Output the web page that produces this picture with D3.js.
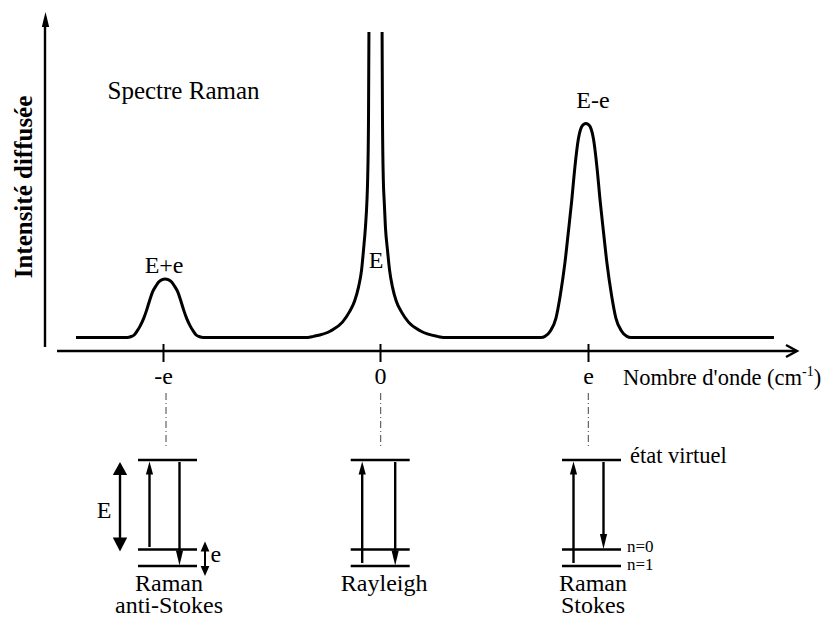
<!DOCTYPE html>
<html><head><meta charset="utf-8">
<script src="https://cdn.jsdelivr.net/npm/d3@7"></script>
<style>
body{margin:0;background:#fff}
svg{display:block}
text{font-family:"Liberation Serif","Times New Roman",Times,"Nimbus Roman","DejaVu Serif",serif;fill:#000}
</style>
</head><body>
<svg id="c" width="821" height="617"></svg>
<script>
// ---------- DATA ----------
const tickValues = [-100, 0, 100];
const tickLabels = ["-e", "0", "e"];
const peakLabels = ["E+e", "E", "E-e"];
const peakLabelX = [-99.5, -1.8, 102.4];
const peakLabelY = [23.0, 24.4, 71.5];

// spectrum (null = curve clipped at the top of the Rayleigh line)
const spectrumX = [
  -140.1,
  -116.5, -114.9, -113.3, -111.9, -110.5, -108.9, -107.5, -106.1, -104.8, -103.4, -102.0, -100.4, -99.0,
  -97.6, -96.0, -94.6, -93.2, -91.9, -90.5, -89.1, -87.5, -86.1, -84.7, -83.1, -81.5,
  -33.4, -30.7, -22.8, -17.3, -14.1, -11.7, -9.9, -8.5, -7.6, -6.7, -6.0, -5.7, -5.3, -5.1,
  -2.0,
  1.0, 1.2, 1.6, 2.0, 2.6, 3.6, 4.6, 6.0, 7.8, 10.3, 13.7, 19.5, 27.6, 30.5,
  77.4, 79.3, 81.9, 84.6, 86.7, 88.9, 90.5, 92.2, 93.7, 95.3, 96.9, 98.0, 99.0,
  100.0, 101.1, 102.7, 104.3, 105.8, 107.5, 109.1, 111.3, 113.4, 116.1, 118.7, 120.6,
  189.4
];
const spectrumY = [
  4.0,
  4.0, 4.2, 4.7, 5.9, 7.4, 9.6, 12.1, 15.0, 17.4, 19.0, 20.3, 21.0, 21.2,
  21.0, 20.3, 19.0, 17.4, 15.0, 12.1, 9.6, 7.4, 5.9, 4.7, 4.2, 4.0,
  4.0, 4.3, 5.9, 8.5, 11.5, 14.7, 18.8, 23.8, 29.7, 36.5, 44.4, 50.3, 67.9, 93.8,
  null,
  93.8, 67.9, 50.3, 44.4, 36.5, 29.7, 23.8, 18.8, 14.7, 11.5, 8.5, 5.9, 4.3, 4.0,
  4.0, 4.3, 5.9, 9.7, 16.5, 25.9, 34.7, 44.4, 54.1, 62.1, 65.9, 66.7, 66.9,
  66.7, 65.9, 62.1, 54.1, 44.4, 34.7, 25.9, 16.5, 9.7, 5.9, 4.3, 4.0,
  4.0
];

// energy-level diagrams
const diagramNames = [["Raman", "anti-Stokes"], ["Rayleigh"], ["Raman", "Stokes"]];
const upFrom   = [1, 2, 2];   // level index: 0 = virtual, 1 = n=0, 2 = n=1
const downTo   = [2, 2, 1];
const levelNames = ["état virtuel", "n=0", "n=1"];

// ---------- LAYOUT ----------
const FONT = '"Liberation Serif","Times New Roman",Times,"Nimbus Roman","DejaVu Serif",serif';
const svg = d3.select("#c");
const x = d3.scaleLinear().domain([-100, 0, 100]).range([163, 380, 588]);
const y = d3.scaleLinear().domain([0, 100]).range([351, 11]);
const AX = 2.4;

// y axis with arrow
svg.append("line").attr("x1", 45).attr("x2", 45).attr("y1", 347).attr("y2", 22)
  .attr("stroke", "#000").attr("stroke-width", AX);
svg.append("path").attr("d", "M45.5,12 L41.8,27 L49.2,27 Z").attr("fill", "#000");

// x axis with arrow
svg.append("line").attr("x1", 57).attr("x2", 796).attr("y1", 351).attr("y2", 351)
  .attr("stroke", "#000").attr("stroke-width", AX);
svg.append("path").attr("d", "M786,345 L797,351 L786,357").attr("fill", "none")
  .attr("stroke", "#000").attr("stroke-width", AX);

const axis = d3.axisBottom(x).tickValues(tickValues)
  .tickFormat((d, i) => tickLabels[i]).tickSizeInner(18).tickSizeOuter(0);
const gAxis = svg.append("g").attr("transform", "translate(0,344)").call(axis);
gAxis.attr("font-family", null).attr("font-size", null);
gAxis.select(".domain").remove();
gAxis.selectAll(".tick line").attr("stroke", "#000").attr("stroke-width", 2);
gAxis.selectAll(".tick text").attr("y", 40).attr("dy", 0)
  .style("font-family", FONT).style("font-size", "24px").attr("fill", "#000");

// axis titles
svg.append("text").attr("transform", "translate(32,187) rotate(-90)")
  .attr("text-anchor", "middle").style("font-size", "25px").style("font-weight", "bold")
  .text("Intensité diffusée");
const xt = svg.append("text").attr("x", 623).attr("y", 385).style("font-size", "22.5px");
xt.append("tspan").text("Nombre d'onde (cm");
xt.append("tspan").attr("dy", -9).style("font-size", "14px").text("-1");
xt.append("tspan").attr("dy", 9).text(")");

svg.append("text").attr("x", 107.5).attr("y", 99).style("font-size", "25px").text("Spectre Raman");

// spectrum curve
const pts = spectrumX.map((v, i) => ({x: v, y: spectrumY[i]}));
const line = d3.line().defined(d => d.y !== null)
  .x(d => x(d.x)).y(d => y(d.y)).curve(d3.curveMonotoneX);
svg.append("path").datum(pts).attr("d", line).attr("fill", "none")
  .attr("stroke", "#000").attr("stroke-width", 3).attr("stroke-linejoin", "round");

// peak labels
svg.selectAll("text.pk").data(peakLabels).join("text").attr("class", "pk")
  .attr("x", (d, i) => x(peakLabelX[i])).attr("y", (d, i) => y(peakLabelY[i]))
  .attr("text-anchor", "middle").style("font-size", "24px").text(d => d);

// ---------- ENERGY DIAGRAMS ----------
const levelY = [460, 549.5, 566];
const shift = [4.5, 0.2, 3.5];
const guideShift = [3, 0.7, 0.3];
const upDx = -18, downDx = [12, 15, 12];
const halfW = 29.5;

function arrowHead(cx, tipY, dir, len, hw) {
  const b = tipY - dir * len;
  return `M${cx},${tipY} L${cx - hw},${b} L${cx + hw},${b} Z`;
}

tickValues.forEach((v, i) => {
  const cx = x(v) + shift[i];
  const gx = x(v) + guideShift[i];
  svg.append("line").attr("x1", gx).attr("x2", gx)
    .attr("y1", 393).attr("y2", 449).attr("stroke", "#444").attr("stroke-width", 1)
    .attr("stroke-dasharray", "7,3,1,3");
  levelY.forEach(ly => {
    svg.append("line").attr("x1", cx - halfW).attr("x2", cx + halfW)
      .attr("y1", ly).attr("y2", ly).attr("stroke", "#000").attr("stroke-width", 2.4);
  });
  const ux = cx + upDx;
  const uy0 = upFrom[i] === 1 ? levelY[1] - 2.5 : levelY[2] - 3;
  svg.append("line").attr("x1", ux).attr("x2", ux).attr("y1", uy0).attr("y2", 472)
    .attr("stroke", "#000").attr("stroke-width", 2.4);
  svg.append("path").attr("d", arrowHead(ux, 461.5, -1, 13, 3.6)).attr("fill", "#000");
  const dx = cx + downDx[i];
  const tip = levelY[downTo[i]] - 0.5;
  svg.append("line").attr("x1", dx).attr("x2", dx).attr("y1", 462).attr("y2", tip - 12)
    .attr("stroke", "#000").attr("stroke-width", 2.4);
  svg.append("path").attr("d", arrowHead(dx, tip, 1, 15, 3.6)).attr("fill", "#000");
  diagramNames[i].forEach((nm, j) => {
    svg.append("text").attr("x", cx + (i === 1 ? 4 : 1.5)).attr("y", 591 + j * 22)
      .attr("text-anchor", "middle").style("font-size", "24px").text(nm);
  });
});

// E and e double arrows (anti-Stokes)
const cA = x(tickValues[0]) + shift[0];
const ex = cA - 47.5;
svg.append("line").attr("x1", ex).attr("x2", ex).attr("y1", 472).attr("y2", 540)
  .attr("stroke", "#000").attr("stroke-width", 2.4);
svg.append("path").attr("d", arrowHead(ex, 462, -1, 13, 7.2)).attr("fill", "#000");
svg.append("path").attr("d", arrowHead(ex, 551.5, 1, 14, 7.2)).attr("fill", "#000");
svg.append("text").attr("x", ex - 16).attr("y", 517.5).attr("text-anchor", "middle")
  .style("font-size", "24px").text("E");

const sx = cA + 37.5;
svg.append("line").attr("x1", sx).attr("x2", sx).attr("y1", 550).attr("y2", 568)
  .attr("stroke", "#000").attr("stroke-width", 2);
svg.append("path").attr("d", arrowHead(sx, 541.5, -1, 10, 4.4)).attr("fill", "#000");
svg.append("path").attr("d", arrowHead(sx, 576, 1, 10, 4.4)).attr("fill", "#000");
svg.append("text").attr("x", sx + 5.5).attr("y", 562).style("font-size", "24px").text("e");

// level names (Stokes)
const cS = x(tickValues[2]) + shift[2];
svg.append("text").attr("x", cS + halfW + 9).attr("y", 463).style("font-size", "22.5px").text(levelNames[0]);
svg.append("text").attr("x", cS + halfW + 6).attr("y", 552).style("font-size", "17px").text(levelNames[1]);
svg.append("text").attr("x", cS + halfW + 6).attr("y", 569.5).style("font-size", "17px").text(levelNames[2]);
</script>
</body></html>
